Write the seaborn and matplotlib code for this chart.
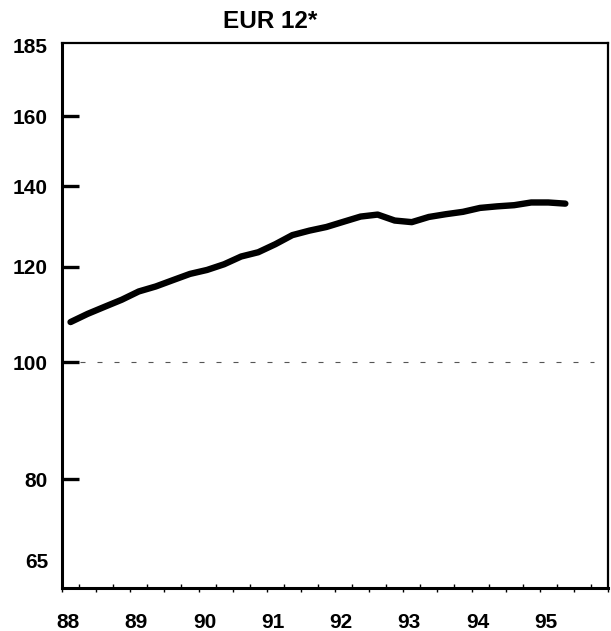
import numpy as np
import pandas as pd
import matplotlib
matplotlib.use("Agg")
import matplotlib.pyplot as plt
from matplotlib.transforms import ScaledTranslation
from matplotlib.ticker import FixedLocator, NullFormatter
import seaborn as sns

# Quarterly index, EUR 12 (log scale)
quarters = [88.125, 88.375, 88.625, 88.875,
            89.125, 89.375, 89.625, 89.875,
            90.125, 90.375, 90.625, 90.875,
            91.125, 91.375, 91.625, 91.875,
            92.125, 92.375, 92.625, 92.875,
            93.125, 93.375, 93.625, 93.875,
            94.125, 94.375, 94.625, 94.875,
            95.125, 95.375]
index_values = [108.0, 109.7, 111.2, 112.7,
                114.5, 115.6, 117.0, 118.4,
                119.3, 120.6, 122.4, 123.4,
                125.3, 127.5, 128.6, 129.5,
                130.8, 132.1, 132.6, 131.1,
                130.7, 132.0, 132.7, 133.3,
                134.3, 134.7, 135.0, 135.7,
                135.7, 135.4]
year_ticks = [88, 89, 90, 91, 92, 93, 94, 95]
year_labels = ["88", "89", "90", "91", "92", "93", "94", "95"]
y_ticks = [80, 100, 120, 140, 160]
y_labels = ["80", "100", "120", "140", "160"]
baseline = 100

df = pd.DataFrame({"year": quarters, "index": index_values})

sns.set_style("white")
plt.rcParams["font.family"] = ["Liberation Sans", "DejaVu Sans"]
plt.rcParams["font.weight"] = "bold"
plt.rcParams["text.color"] = "black"
plt.rcParams["xtick.color"] = "black"
plt.rcParams["ytick.color"] = "black"
plt.rcParams["xtick.labelcolor"] = "black"
plt.rcParams["ytick.labelcolor"] = "black"

fig = plt.figure(figsize=(6.11, 6.31), dpi=100)
ax = fig.add_axes([62 / 611, 1 - 588 / 631, (608 - 62) / 611, (588 - 43) / 631])

sns.lineplot(data=df, x="year", y="index", ax=ax, color="black",
             linewidth=4.6, solid_capstyle="round", solid_joinstyle="round")

ax.set_yscale("log")
ax.set_ylim(65, 184)
ax.set_xlim(88, 96)
ax.set_xlabel("")
ax.set_ylabel("")

# reference line at 100
ax.hlines(baseline, 88.26, 95.79, colors="#555555", linewidth=0.8,
          linestyles=(0, (4.5, 10.8)))

# y axis: heavy inward ticks
ax.yaxis.set_major_locator(FixedLocator(y_ticks))
ax.set_yticklabels(y_labels)
ax.yaxis.set_minor_locator(FixedLocator([]))
ax.yaxis.set_minor_formatter(NullFormatter())
ax.tick_params(axis="y", which="major", direction="in", length=12.5, width=2.4,
               pad=10, labelsize=15, color="black", labelcolor="black", left=True)
for lbl in ax.get_yticklabels():
    lbl.set_fontweight("bold")

# end labels of the y range
ax.annotate("185", xy=(0, 184), xycoords=("axes fraction", "data"),
            xytext=(-10, -3), textcoords="offset points",
            ha="right", va="center", fontsize=15, fontweight="bold", color="black")
ax.annotate("65", xy=(0, 65), xycoords=("axes fraction", "data"),
            xytext=(-10, 18), textcoords="offset points",
            ha="right", va="center", fontsize=15, fontweight="bold", color="black")

# x axis: half-year ticks outward, quarter ticks inward
half_years = [88 + 0.5 * i for i in range(17)]
ax.xaxis.set_major_locator(FixedLocator(half_years))
ax.set_xticklabels([year_labels[year_ticks.index(int(h))] if h == int(h) and int(h) in year_ticks else ""
                    for h in half_years])
ax.xaxis.set_minor_locator(FixedLocator([88.25 + 0.5 * i for i in range(16)]))
ax.tick_params(axis="x", which="major", direction="out", length=3, width=1,
               pad=15, labelsize=15, color="black", labelcolor="black", bottom=True)
ax.tick_params(axis="x", which="minor", direction="in", length=3, width=1,
               color="black", bottom=True)
shift = ScaledTranslation(6 / 100, 0, fig.dpi_scale_trans)
for lbl in ax.get_xticklabels():
    lbl.set_fontweight("bold")
    lbl.set_transform(lbl.get_transform() + shift)

for side, w in {"left": 2.2, "bottom": 2.2, "top": 1.6, "right": 1.6}.items():
    ax.spines[side].set_visible(True)
    ax.spines[side].set_color("black")
    ax.spines[side].set_linewidth(w)

fig.text(270 / 611, 1 - 21 / 631, "EUR 12*", ha="center", va="center",
         fontsize=17.5, fontweight="bold", color="black")

fig.savefig("out.png", dpi=100, facecolor="white")
